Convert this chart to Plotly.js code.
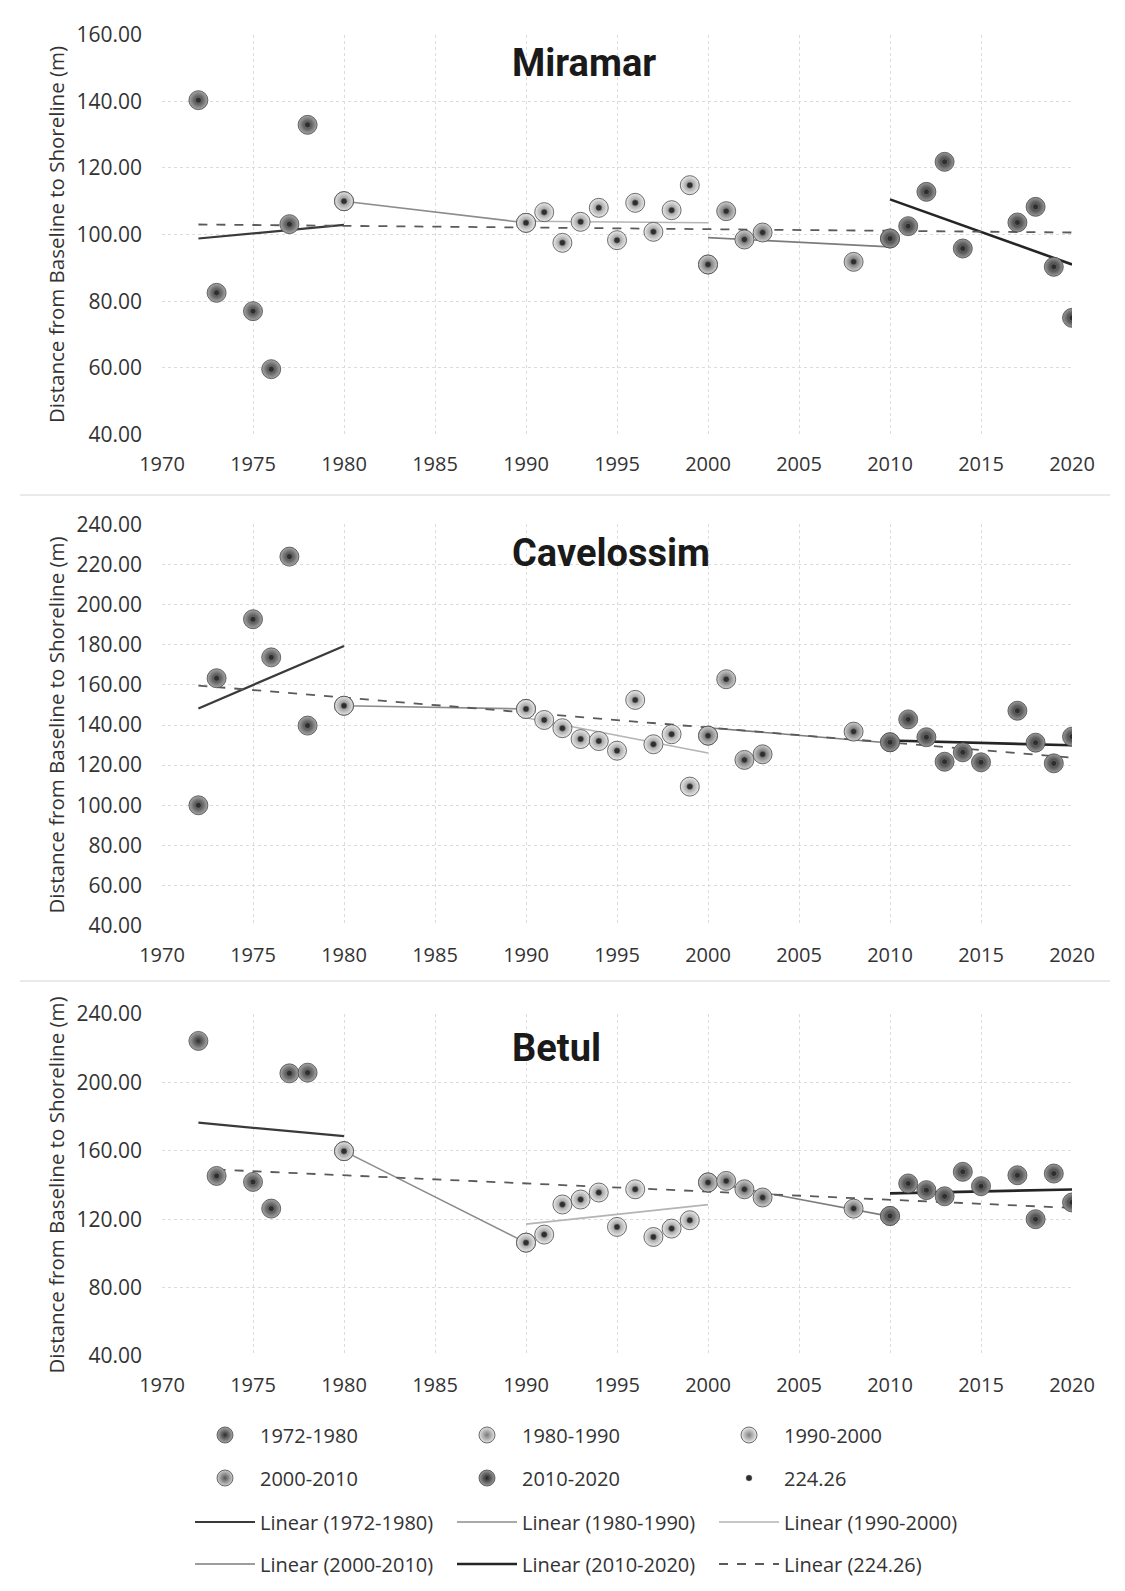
<!DOCTYPE html>
<html><head><meta charset="utf-8">
<script src="https://cdn.plot.ly/plotly-3.0.1.min.js"></script>
<style>html,body{margin:0;padding:0;background:#fff}#chart{width:1125px;height:1591px}</style>
</head><body><div id="chart"></div>
<script>
// ---------- DATA ----------
const miramarYears  = [1972,1973,1975,1976,1977,1978,1980,1990,1991,1992,1993,1994,1995,1996,1997,1998,1999,2000,2001,2002,2003,2008,2010,2011,2012,2013,2014,2017,2018,2019,2020];
const miramarValues = [140.3,82.5,77.0,59.6,103.1,132.9,110.0,103.5,106.7,97.5,103.8,108.0,98.3,109.5,100.8,107.3,114.8,91.0,107.0,98.5,100.6,91.8,98.8,102.5,112.8,121.8,95.8,103.6,108.3,90.3,75.0];

const cavelossimYears  = [1972,1973,1975,1976,1977,1978,1980,1990,1991,1992,1993,1994,1995,1996,1997,1998,1999,2000,2001,2002,2003,2008,2010,2011,2012,2013,2014,2015,2017,2018,2019,2020];
const cavelossimValues = [100.0,163.3,192.7,173.7,223.9,139.7,149.6,148.0,142.5,138.4,133.0,132.0,127.2,152.5,130.4,135.4,109.3,134.7,162.8,122.6,125.4,136.7,131.4,142.8,133.9,121.7,126.4,121.4,147.1,131.2,120.9,134.2];

const betulYears  = [1972,1973,1975,1976,1977,1978,1980,1990,1991,1992,1993,1994,1995,1996,1997,1998,1999,2000,2001,2002,2003,2008,2010,2011,2012,2013,2014,2015,2017,2018,2019,2020];
const betulValues = [224.26,145.3,141.8,126.2,205.3,205.7,159.8,106.3,111.0,128.6,131.5,135.6,115.5,137.5,109.6,114.5,119.4,141.5,142.4,137.5,132.7,126.2,121.9,140.9,137.0,133.4,147.7,139.3,145.7,120.0,146.7,129.8];

const periodNames = ['1972-1980','1980-1990','1990-2000','2000-2010','2010-2020'];
const periodStart = [1972,1980,1990,2000,2010];
const periodEnd   = [1980,1990,2000,2010,2020];
const allSeriesName = '224.26';
const allSeriesFirstYear = [1972,1972,1973]; // Miramar, Cavelossim, Betul

const xTickYears = [1970,1975,1980,1985,1990,1995,2000,2005,2010,2015,2020];

// ---------- HELPERS ----------
const W = 1125, H = 1591;
const px = v => v / W;
const py = v => 1 - v / H;

function fit(xs, ys) {
  const n = xs.length;
  const mx = xs.reduce((a,b)=>a+b,0)/n, my = ys.reduce((a,b)=>a+b,0)/n;
  let sxy = 0, sxx = 0;
  for (let i = 0; i < n; i++) { sxy += (xs[i]-mx)*(ys[i]-my); sxx += (xs[i]-mx)*(xs[i]-mx); }
  const b = sxx ? sxy/sxx : 0, a = my - b*mx;
  const x0 = Math.min(...xs), x1 = Math.max(...xs);
  return {x:[x0,x1], y:[a+b*x0, a+b*x1]};
}
function subset(years, values, y0, y1) {
  const xs = [], ys = [];
  years.forEach((y,i) => { if (y >= y0 && y <= y1) { xs.push(y); ys.push(values[i]); } });
  return {xs, ys};
}

// ---------- STYLE ----------
const panels = [
  {title:'Miramar',    years:miramarYears,    values:miramarValues,    range:[40,160], dtick:20, top:34.5,  bottom:434.5, titleY:63},
  {title:'Cavelossim', years:cavelossimYears, values:cavelossimValues, range:[40,240], dtick:20, top:524.3, bottom:925.7, titleY:553},
  {title:'Betul',      years:betulYears,      values:betulValues,      range:[40,240], dtick:40, top:1014,  bottom:1356,  titleY:1048}
];
const markerStyle = [
  {c:'#a8a8a8', e:'#2e2e2e'},
  {c:'#e4e4e4', e:'#7a7a7a'},
  {c:'#ececec', e:'#808080'},
  {c:'#cfcfcf', e:'#555555'},
  {c:'#9a9a9a', e:'#222222'}
];
const lineStyle = [
  {color:'#3a3a3a', width:2.2},
  {color:'#8c8c8c', width:1.6},
  {color:'#b4b4b4', width:1.6},
  {color:'#7c7c7c', width:1.6},
  {color:'#252525', width:2.6}
];
const legendOfMarker = ['legend','legend','legend','legend2','legend2'];
const legendOfLine   = ['legend3','legend3','legend3','legend4','legend4'];
const FONT = 'Open Sans, Noto Sans, sans-serif';

const lineTraces = [], markerTraces = [], dotTraces = [];
panels.forEach((p, k) => {
  const xa = k === 0 ? 'x' : 'x' + (k+1);
  const ya = k === 0 ? 'y' : 'y' + (k+1);
  const first = k === 0;
  periodNames.forEach((nm, i) => {
    const s = subset(p.years, p.values, periodStart[i], periodEnd[i]);
    const f = fit(s.xs, s.ys);
    lineTraces.push({x:f.x, y:f.y, xaxis:xa, yaxis:ya, mode:'lines', name:'Linear (' + nm + ')',
      line:{color:lineStyle[i].color, width:lineStyle[i].width}, showlegend:first, legend:legendOfLine[i], hoverinfo:'skip'});
    markerTraces.push({x:s.xs, y:s.ys, xaxis:xa, yaxis:ya, mode:'markers', name:nm,
      marker:{size:19, color:markerStyle[i].c, gradient:{type:'radial', color:markerStyle[i].e}, line:{color:'#4a4a4a', width:0.8}},
      showlegend:first, legend:legendOfMarker[i]});
  });
  const s = subset(p.years, p.values, allSeriesFirstYear[k], 2100);
  const f = fit(s.xs, s.ys);
  lineTraces.push({x:f.x, y:f.y, xaxis:xa, yaxis:ya, mode:'lines', name:'Linear (' + allSeriesName + ')',
    line:{color:'#5a5a5a', width:1.8, dash:'dash'}, showlegend:first, legend:'legend4', hoverinfo:'skip'});
  dotTraces.push({x:s.xs, y:s.ys, xaxis:xa, yaxis:ya, mode:'markers', name:allSeriesName,
    marker:{size:6, color:'#2e2e2e', line:{color:'#888', width:0.5}}, showlegend:first, legend:'legend2'});
});

const data = [...lineTraces, ...markerTraces, ...dotTraces];

const layout = {
  width: W, height: H,
  margin:{l:0, r:0, t:0, b:0},
  paper_bgcolor:'#fff', plot_bgcolor:'#fff',
  font:{family:FONT, size:20, color:'#333'},
  annotations: [], shapes: []
};
panels.forEach((p, k) => {
  const sx = k === 0 ? 'xaxis' : 'xaxis' + (k+1);
  const sy = k === 0 ? 'yaxis' : 'yaxis' + (k+1);
  const ya = k === 0 ? 'y' : 'y' + (k+1);
  const xa = k === 0 ? 'x' : 'x' + (k+1);
  layout[sx] = {domain:[px(162), px(1072)], anchor:ya, range:[1970,2020], tickvals:xTickYears,
    showgrid:true, gridcolor:'#dcdcdc', griddash:'dot', zeroline:false, showline:false, ticks:'',
    ticklabelstandoff:15, tickfont:{family:FONT, size:20, color:'#333'}, automargin:false, fixedrange:true};
  const yt = [];
  for (let v = p.range[0]; v <= p.range[1]; v += p.dtick) yt.push(v);
  layout[sy] = {domain:[py(p.bottom), py(p.top)], anchor:xa, range:p.range, tickvals:yt, tickformat:'.2f',
    showgrid:true, gridcolor:'#dcdcdc', griddash:'dot', zeroline:false, showline:false, ticks:'',
    ticklabelstandoff:19, tickfont:{family:FONT, size:21, color:'#333'}, automargin:false, fixedrange:true,
    title:{text:'Distance from Baseline to Shoreline (m)', font:{family:FONT, size:20.5, color:'#333'}, standoff:6}};
  layout.annotations.push({text:'<b>' + p.title + '</b>', xref:'paper', yref:'paper', x:px(510), y:py(p.titleY),
    xanchor:'left', yanchor:'middle', showarrow:false, font:{family:'Roboto, sans-serif', size:38, color:'#1a1a1a'}});
});
layout.shapes.push({type:'line', xref:'paper', yref:'paper', x0:px(20), x1:px(1110), y0:py(495), y1:py(495), line:{color:'#d4d4d4', width:1}});
layout.shapes.push({type:'line', xref:'paper', yref:'paper', x0:px(20), x1:px(1110), y0:py(981), y1:py(981), line:{color:'#d4d4d4', width:1}});

const legendRows = {legend:1435, legend2:1478, legend3:1522, legend4:1564};
Object.keys(legendRows).forEach(key => {
  layout[key] = {orientation:'h', x:px(190), xanchor:'left', y:py(legendRows[key]), yanchor:'middle',
    entrywidth:187, entrywidthmode:'pixels', itemwidth:60, traceorder:'normal', bgcolor:'rgba(0,0,0,0)',
    font:{family:FONT, size:20, color:'#333'}, itemclick:false, itemdoubleclick:false};
});

Plotly.newPlot('chart', data, layout, {staticPlot:true, displayModeBar:false});
</script>
</body></html>
